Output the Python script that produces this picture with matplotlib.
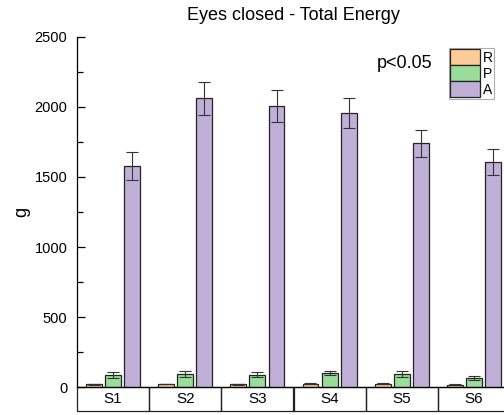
import numpy as np
import matplotlib.pyplot as plt
from matplotlib.patches import Rectangle
from matplotlib.transforms import blended_transform_factory

plt.rcParams['font.family'] = ['Liberation Sans', 'DejaVu Sans']

# data
subjects = ["S1", "S2", "S3", "S4", "S5", "S6"]
r_vals = [20, 22, 18, 25, 25, 15]
r_err = [3, 3, 3, 3, 5, 3]
p_vals = [86, 93, 88, 97, 95, 64]
p_err = [20, 18, 17, 14, 22, 14]
a_vals = [1581, 2062, 2005, 1958, 1740, 1608]
a_err = [101, 120, 115, 105, 95, 95]

colors = ["#FFCC99", "#99DD99", "#C0B0D8"]
labels = ["R", "P", "A"]

fig = plt.figure(figsize=(5.04, 4.15), dpi=100)
ax = fig.add_axes([77 / 504, 28 / 415, 433 / 504, 350 / 415])

x = np.arange(len(subjects))
w = 0.22
off = 0.265
ekw = dict(ecolor="#333333", elinewidth=0.8, capsize=4, capthick=0.8)
for i, (vals, err) in enumerate([(r_vals, r_err), (p_vals, p_err), (a_vals, a_err)]):
    ax.bar(x + (i - 1) * off, vals, w, yerr=err, color=colors[i],
           edgecolor="#222222", linewidth=0.9, label=labels[i],
           error_kw=ekw, zorder=2)

ax.set_xlim(-0.5, len(subjects) - 0.5)
ax.set_ylim(0, 2500)
ax.set_yticks(np.arange(0, 2501, 500))
ax.set_yticks(np.arange(250, 2500, 500), minor=True)
ax.tick_params(axis="y", which="major", direction="in", length=6, width=0.9,
               labelsize=10.5, pad=7)
ax.tick_params(axis="y", which="minor", direction="in", length=4, width=0.9)
ax.set_xticks([])
for s in ["top", "right"]:
    ax.spines[s].set_visible(False)
ax.spines["left"].set_linewidth(0.9)
ax.spines["bottom"].set_linewidth(0.9)

fig.text(22 / 504, 1 - 212 / 415, "g", rotation=90, fontsize=13,
         ha="center", va="center")
ax.set_title("Eyes closed - Total Energy", fontsize=13, pad=12)

# category table under the axis
tr = blended_transform_factory(ax.transData, ax.transAxes)
th = 24 / 350
for i, s in enumerate(subjects):
    ax.add_patch(Rectangle((i - 0.5, -th), 1, th, transform=tr, fill=False,
                           edgecolor="#222222", linewidth=0.9, clip_on=False))
    ax.text(i, -th / 2, s, transform=tr, ha="center", va="center", fontsize=11)

ax.text(0.756, 0.923, "p<0.05", transform=ax.transAxes, fontsize=13,
        ha="center", va="center")
leg = ax.legend(loc="upper left", bbox_to_anchor=(372 / 433, 0.969),
                fontsize=10, handlelength=2.15, handleheight=1.4,
                handletextpad=0.2, labelspacing=0.0, borderpad=0.1,
                borderaxespad=0, frameon=True, fancybox=False)
leg.get_frame().set_edgecolor("#999999")
leg.get_frame().set_linewidth(0.8)

fig.savefig("out.png", dpi=100)
